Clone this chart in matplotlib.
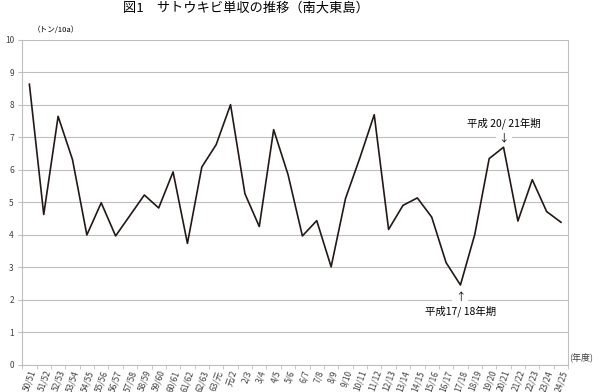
import matplotlib.pyplot as plt
import numpy as np

plt.rcParams['font.family'] = ['Noto Sans CJK JP', 'DejaVu Sans']

seasons = ["50/51", "51/52", "52/53", "53/54", "54/55", "55/56", "56/57", "57/58",
           "58/59", "59/60", "60/61", "61/62", "62/63", "63/元", "元/2", "2/3",
           "3/4", "4/5", "5/6", "6/7", "7/8", "8/9", "9/10", "10/11", "11/12",
           "12/13", "13/14", "14/15", "15/16", "16/17", "17/18", "18/19", "19/20",
           "20/21", "21/22", "22/23", "23/24", "24/25"]
yields = [8.64, 4.63, 7.65, 6.32, 4.00, 4.99, 3.97, 4.60,
          5.23, 4.83, 5.94, 3.74, 6.09, 6.78, 8.01, 5.27,
          4.26, 7.24, 5.86, 3.97, 4.44, 3.02, 5.12, 6.37, 7.70,
          4.17, 4.91, 5.14, 4.55, 3.15, 2.46, 4.02, 6.35,
          6.70, 4.43, 5.70, 4.72, 4.39]

grid_c = "#bfbfbf"
line_c = "#231815"

fig = plt.figure(figsize=(6, 3.92), dpi=100)
ax = fig.add_axes([0.037, 0.069, 0.91, 0.829])

x = np.arange(len(seasons))
ax.plot(x, yields, color=line_c, lw=1.2, zorder=3)

ax.set_xlim(-0.5, len(seasons) - 0.5)
ax.set_ylim(0, 10)
ax.set_yticks(range(0, 11))
ax.yaxis.grid(True, color=grid_c, lw=0.8)
ax.set_axisbelow(True)
for s in ["left", "bottom", "right"]:
    ax.spines[s].set_color(grid_c)
    ax.spines[s].set_linewidth(0.8)
ax.spines["top"].set_visible(False)
ax.tick_params(axis="y", length=3, color=grid_c, labelsize=6, labelcolor="#404040", pad=3)

ax.set_xticks(x)
ax.set_xticklabels(seasons, rotation=70, fontsize=6, color="#404040", ha="right",
                   rotation_mode="anchor")
ax.tick_params(axis="x", length=0, pad=3)
ax.set_xticks(np.arange(-0.5, len(seasons), 1), minor=True)
ax.tick_params(axis="x", which="minor", length=3, color=grid_c)

fig.text(0.41, 0.978, "図1　サトウキビ単収の推移（南大東島）", ha="center", va="center",
         fontsize=9.5)
fig.text(0.055, 0.923, "（トン/10a）", ha="left", va="center", fontsize=5.5)
fig.text(0.949, 0.088, "(年度)", ha="left", va="center", fontsize=6.5, color="#404040")

box = dict(facecolor="white", edgecolor="none", pad=2)
ax.text(33, 7.45, "平成 20/ 21年期", ha="center", va="center", fontsize=7.5, bbox=box)
ax.text(33, 6.98, "↓", ha="center", va="center", fontsize=7.5, bbox=box)
ax.text(30, 1.66, "平成17/ 18年期", ha="center", va="center", fontsize=7.5, bbox=box)
ax.text(30, 2.09, "↑", ha="center", va="center", fontsize=7.5, bbox=box)

fig.savefig("out.png", dpi=100)
